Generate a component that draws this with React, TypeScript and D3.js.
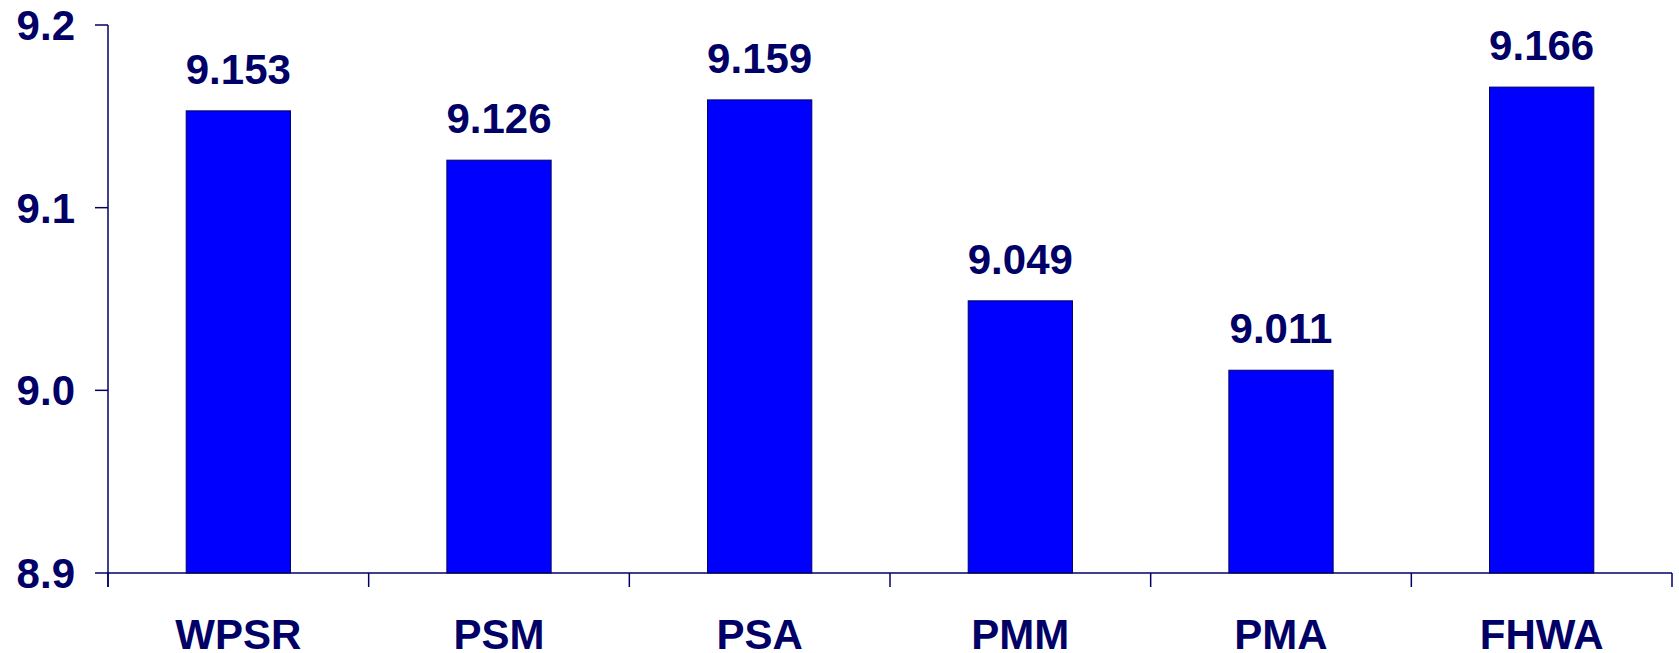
import React from "react";
import * as d3 from "d3";

const categories = ["WPSR", "PSM", "PSA", "PMM", "PMA", "FHWA"];
const values = [9.153, 9.126, 9.159, 9.049, 9.011, 9.166];
const yTicks = [8.9, 9.0, 9.1, 9.2];

const W = 1679;
const H = 653;
const left = 108;
const right = 1672;
const top = 25;
const bottom = 573;
const navy = "#000066";
const font = "'Liberation Sans', Arial, sans-serif";

export default function App() {
  const x = d3.scaleBand<string>().domain(categories).range([left, right]).paddingInner(0.6).paddingOuter(0.3);
  const y = d3.scaleLinear().domain([8.9, 9.2]).range([bottom, top]);
  const step = (right - left) / categories.length;
  const boundaries = d3.range(categories.length + 1).map((i) => left + i * step);

  return (
    <svg width={W} height={H} style={{ position: "absolute", left: 0, top: 0 }}>
      <rect width={W} height={H} fill="#fff" />
      {categories.map((c, i) => (
        <rect
          key={c}
          x={x(c)}
          y={y(values[i])}
          width={x.bandwidth()}
          height={bottom - y(values[i])}
          fill="#0000ff"
          stroke={navy}
          strokeWidth={1}
        />
      ))}
      {categories.map((c, i) => (
        <text
          key={"v" + c}
          x={(x(c) as number) + x.bandwidth() / 2}
          y={y(values[i]) - 27}
          textAnchor="middle"
          fontFamily={font}
          fontWeight="bold"
          fontSize={42}
          fill={navy}
        >
          {values[i].toFixed(3)}
        </text>
      ))}
      <line x1={left} x2={left} y1={top} y2={bottom + 14} stroke={navy} strokeWidth={1.5} />
      <line x1={left} x2={right} y1={bottom} y2={bottom} stroke={navy} strokeWidth={1.5} />
      {yTicks.map((t) => (
        <g key={t}>
          <line x1={left - 13} x2={left} y1={y(t)} y2={y(t)} stroke={navy} strokeWidth={1.5} />
          <text
            x={75}
            y={y(t)}
            dy="0.36em"
            textAnchor="end"
            fontFamily={font}
            fontWeight="bold"
            fontSize={42}
            fill={navy}
          >
            {t.toFixed(1)}
          </text>
        </g>
      ))}
      {boundaries.map((b, i) => (
        <line key={"b" + i} x1={b} x2={b} y1={bottom} y2={bottom + 14} stroke={navy} strokeWidth={1.5} />
      ))}
      {categories.map((c) => (
        <text
          key={"c" + c}
          x={(x(c) as number) + x.bandwidth() / 2}
          y={649}
          textAnchor="middle"
          fontFamily={font}
          fontWeight="bold"
          fontSize={42}
          fill={navy}
        >
          {c}
        </text>
      ))}
    </svg>
  );
}
